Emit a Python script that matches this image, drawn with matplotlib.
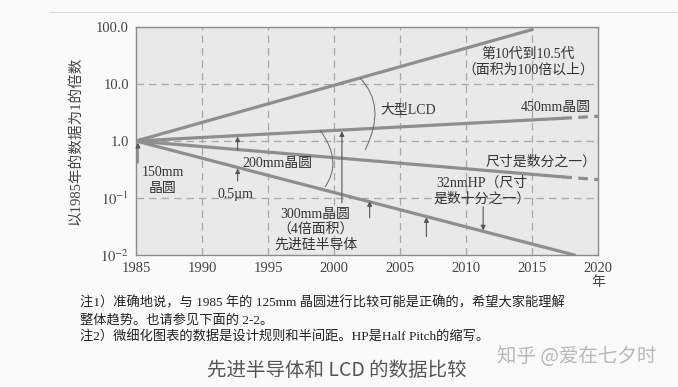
import matplotlib.pyplot as plt
from matplotlib.path import Path
from matplotlib.patches import PathPatch
from matplotlib.lines import Line2D

plt.rcParams['font.family'] = ['Liberation Serif', 'Noto Sans CJK SC']
plt.rcParams['mathtext.fontset'] = 'stix'

# 数据: 以1985年为1的倍数
BASE_YEAR = 1985
lcd_years = [1985, 2015]
lcd_values = [1.0, 90.0]
wafer_years = [1985, 2017.3]
wafer_values = [1.0, 2.5]
wafer_future_years = [2017.3, 2020]
wafer_future_values = [2.5, 2.72]
size_years = [1985, 2017.3]
size_values = [1.0, 0.235]
size_future_years = [2017.3, 2020]
size_future_values = [0.235, 0.21]
hp_years = [1985, 2018.2]
hp_values = [1.0, 0.01]

x_ticks = [1985, 1990, 1995, 2000, 2005, 2010, 2015, 2020]
y_ticks = [0.01, 0.1, 1.0, 10.0, 100.0]
y_tick_labels = ['$10^{-2}$', '$10^{-1}$', '1.0', '10.0', '100.0']

# (年份, 箭尾值, 箭头值)
arrows = [
    (1985.15, 0.41, 0.93),
    (1992.7, 0.69, 1.2),
    (1992.7, 0.2, 0.33),
    (2000.6, 0.082, 1.48),
    (2002.7, 0.045, 0.088),
    (2007.0, 0.021, 0.046),
    (2011.3, 0.07, 0.027),
]

LINE_C = '#8e8e8e'
TEXT_C = '#333333'

fig = plt.figure(figsize=(6.78, 3.87), dpi=100)
fig.patch.set_facecolor('#fafafa')
# 扫描件顶部的淡线
fig.add_artist(Line2D([50 / 678, 1.0], [1 - 12 / 387, 1 - 12 / 387],
                      transform=fig.transFigure, color='#dddddd', lw=0.8))

ax = fig.add_axes([136 / 678, 1 - 255 / 387, 462 / 678, 228 / 387])
ax.set_facecolor('#e9e9e9')
ax.set_yscale('log')
ax.set_xlim(1985, 2020)
ax.set_ylim(0.01, 100)

for x in x_ticks[1:-1]:
    ax.axvline(x, color='#a8a8a8', lw=0.9, ls=(0, (6, 4)), zorder=1)
for y in y_ticks[1:-1]:
    ax.axhline(y, color='#a8a8a8', lw=0.9, ls=(0, (6, 4)), zorder=1)

ax.plot(lcd_years, lcd_values, color=LINE_C, lw=2.3, zorder=3)
ax.plot(wafer_years, wafer_values, color=LINE_C, lw=2.3, zorder=3)
ax.plot(wafer_future_years, wafer_future_values, color=LINE_C, lw=2.3, ls=(0, (3, 2)), zorder=3)
ax.plot(size_years, size_values, color=LINE_C, lw=2.3, zorder=3)
ax.plot(size_future_years, size_future_values, color=LINE_C, lw=2.3, ls=(0, (3, 2)), zorder=3)
ax.plot(hp_years, hp_values, color=LINE_C, lw=2.3, zorder=3)

for x, y0, y1 in arrows:
    ax.annotate('', xy=(x, y1), xytext=(x, y0),
                arrowprops=dict(arrowstyle='-|>', color='#555555', lw=0.8,
                                mutation_scale=7, shrinkA=0, shrinkB=0), zorder=4)

# 两个括弧
for pts in [[(0.485, 0.776), (0.5435, 0.6535), (0.496, 0.461)],
            [(0.398, 0.548), (0.4485, 0.411), (0.409, 0.298)]]:
    path = Path(pts, [Path.MOVETO, Path.CURVE3, Path.CURVE3])
    ax.add_patch(PathPatch(path, fill=False, color='#666666', lw=0.7,
                           transform=ax.transAxes, zorder=4))

fs = 10
ax.text(2014.7, 24, '第10代到10.5代\n（面积为100倍以上）', ha='center', va='center',
        fontsize=fs, color=TEXT_C, linespacing=1.3)
ax.text(2005.6, 3.5, '大型LCD', ha='center', va='center', fontsize=fs, color=TEXT_C)
ax.text(2016.8, 3.8, '450mm晶圆', ha='center', va='center', fontsize=fs, color=TEXT_C)
ax.text(2015.7, 0.43, '尺寸是数分之一）', ha='center', va='center', fontsize=fs, color=TEXT_C)
ax.text(2011.2, 0.133, '32nmHP（尺寸\n是数十分之一）', ha='center', va='center',
        fontsize=fs, color=TEXT_C, linespacing=1.2)
ax.text(1995.7, 0.41, '200mm晶圆', ha='center', va='center', fontsize=fs, color=TEXT_C)
ax.text(1987.0, 0.2, '150mm\n晶圆', ha='center', va='center', fontsize=fs,
        color=TEXT_C, linespacing=1.3)
ax.text(1992.5, 0.113, '0.5µm', ha='center', va='center', fontsize=fs, color=TEXT_C)
ax.text(1998.6, 0.0275, '300mm晶圆\n（4倍面积）\n先进硅半导体', ha='center', va='center',
        fontsize=fs, color=TEXT_C, linespacing=1.2)

ax.set_xticks(x_ticks)
ax.set_xticklabels([str(x) for x in x_ticks])
ax.set_yticks(y_ticks)
ax.set_yticklabels(y_tick_labels)
ax.minorticks_off()
ax.tick_params(length=0, labelsize=10.5, colors='#444444', pad=5)
for s in ax.spines.values():
    s.set_color('#8a8a8a')
    s.set_linewidth(1.0)

ax.set_ylabel('以1985年的数据为1的倍数', fontsize=10.5, color='#444444', labelpad=10)
ax.text(2020, -0.12, '年', transform=ax.get_xaxis_transform(), ha='center', va='center',
        fontsize=10, color='#444444')

notes = ['注1）准确地说，与 1985 年的 125mm 晶圆进行比较可能是正确的，希望大家能理解',
         '整体趋势。也请参见下面的 2-2。',
         '注2）微细化图表的数据是设计规则和半间距。HP是Half Pitch的缩写。']
for i, line in enumerate(notes):
    fig.text(80 / 678, 1 - (303 + 17 * i) / 387, line, ha='left', va='center',
             fontsize=9.5, color='#222222')

fig.text(337 / 678, 1 - 370 / 387, '先进半导体和 LCD 的数据比较', ha='center', va='center',
         fontsize=14, color='#555555', family=['Noto Sans CJK SC'])
fig.text(577 / 678, 1 - 357 / 387, '知乎 @爱在七夕时', ha='center', va='center',
         fontsize=14, color='#b8b8b8', family=['Noto Sans CJK SC'])

fig.savefig('out.png', dpi=100, facecolor=fig.get_facecolor())
